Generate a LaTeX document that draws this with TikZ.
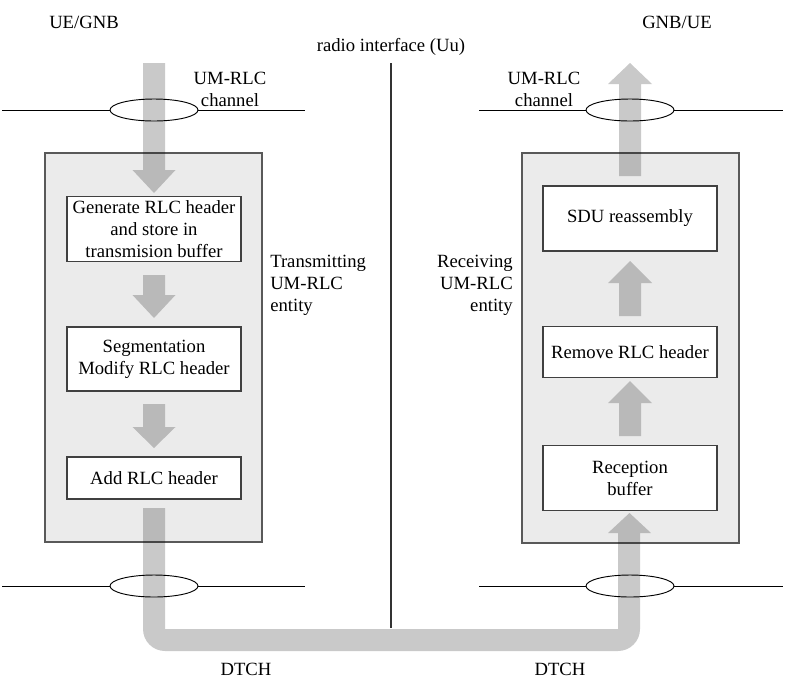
\documentclass[tikz,border=0pt]{standalone}
\usepackage{fontspec}
\setmainfont{Liberation Serif}
\usetikzlibrary{shapes.geometric}
\begin{document}
\begin{tikzpicture}[x=0.75pt,y=-0.75pt,
  every node/.style={font=\rmfamily\fontsize{14}{16.5}\selectfont, inner sep=0pt},
  entitybox/.style={draw=black!65, line width=1.1pt, fill=black!8},
  procbox/.style={draw=black!75, line width=0.8pt, fill=white, minimum width=130.5pt, align=center},
  fatarrow/.style={fill=black, fill opacity=0.21, draw=none},
  chanline/.style={draw=black, line width=0.7pt},
  chanell/.style={draw=black, line width=0.7pt, ellipse, minimum width=66pt, minimum height=16.5pt},
  lbl/.style={align=center}
]
\useasboundingbox (0,0) rectangle (785,697);
\fill[white] (0,0) rectangle (785,697);

% titles
\node[lbl] (ueL) at (84,22) {UE/GNB};
\node[lbl] (ueR) at (677,22) {GNB/UE};
\node[lbl] (radio) at (391,47) {radio interface (Uu)};

% radio interface line
\coordinate (rtop) at (391,63);
\coordinate (rbot) at (391,628);
\draw[black!80, line width=0.8pt] (rtop) -- (rbot);

% entity boxes
\draw[entitybox] (45,153) rectangle (262,542);
\draw[entitybox] (522,153) rectangle (739,543);

% channel ellipses and lines
\node[chanell] (eTL) at (154,110) {};
\node[chanell] (eTR) at (630,110) {};
\node[chanell] (eBL) at (154,586) {};
\node[chanell] (eBR) at (630,586) {};
\coordinate (lTL1) at (2,110);   \coordinate (lTL2) at (305,110);
\coordinate (lTR1) at (479,110); \coordinate (lTR2) at (783,110);
\coordinate (lBL1) at (2,586);   \coordinate (lBL2) at (305,586);
\coordinate (lBR1) at (479,586); \coordinate (lBR2) at (783,586);
\draw[chanline] (lTL1) -- (eTL.west) (eTL.east) -- (lTL2);
\draw[chanline] (lTR1) -- (eTR.west) (eTR.east) -- (lTR2);
\draw[chanline] (lBL1) -- (eBL.west) (eBL.east) -- (lBL2);
\draw[chanline] (lBR1) -- (eBR.west) (eBR.east) -- (lBR2);

\node[lbl] (chL) at (230,89) {UM-RLC\\channel};
\node[lbl] (chR) at (544,89) {UM-RLC\\channel};

% process boxes
\node[procbox, minimum height=48.75pt] (gen) at (154,229) {Generate RLC header\\and store in\\transmision buffer};
\node[procbox, minimum height=48pt] (seg) at (154,359) {Segmentation\\Modify RLC header};
\node[procbox, minimum height=31.5pt] (add) at (154,478) {Add RLC header};
\node[procbox, minimum height=48.75pt] (sdu) at (630,218.5) {SDU reassembly};
\node[procbox, minimum height=38.25pt] (rem) at (630,352) {Remove RLC header};
\node[procbox, minimum height=48.75pt] (rec) at (630,478) {Reception\\buffer};

% entity labels
\node[anchor=west, align=left] (txl) at (270,285) {Transmitting\\UM-RLC\\entity};
\node[anchor=east, align=right] (rxl) at (513,285) {Receiving\\UM-RLC\\entity};

% channel names
\node[lbl] (dL) at (246,669) {DTCH};
\node[lbl] (dR) at (560,669) {DTCH};

% fat arrows (left, downward)
\fill[fatarrow] (143,63) -- (143,170) -- (132.5,170) -- (154,193) -- (175.5,170) -- (165,170) -- (165,63) -- cycle;
\fill[fatarrow] (143,275) -- (143,295) -- (132.5,295) -- (154,318) -- (175.5,295) -- (165,295) -- (165,275) -- cycle;
\fill[fatarrow] (143,404) -- (143,427) -- (132.5,427) -- (154,448) -- (175.5,427) -- (165,427) -- (165,404) -- cycle;

% fat arrows (right, upward)
\fill[fatarrow] (619,176) -- (619,84) -- (608,84) -- (630,63) -- (652,84) -- (641,84) -- (641,176) -- cycle;
\fill[fatarrow] (619,316) -- (619,283) -- (608,283) -- (630,261) -- (652,283) -- (641,283) -- (641,316) -- cycle;
\fill[fatarrow] (619,436) -- (619,403) -- (608,403) -- (630,381) -- (652,403) -- (641,403) -- (641,436) -- cycle;

% DTCH U-shaped arrow
\fill[fatarrow] (143,508) [rounded corners=16.5pt] -- (143,651) -- (640,651) [sharp corners] -- (640,533) -- (651,533) -- (629.5,513) -- (608,533) -- (618,533) -- (618,629) -- (165,629) -- (165,508) -- cycle;
\end{tikzpicture}
\end{document}
